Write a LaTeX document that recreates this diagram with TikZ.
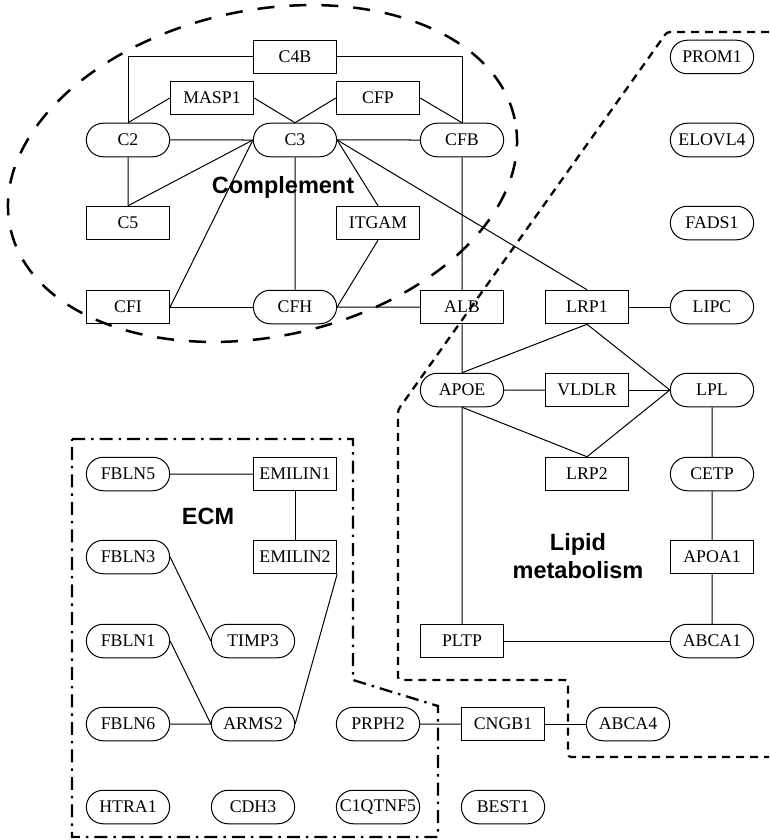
\documentclass[tikz,border=0pt]{standalone}
\usepackage{fontspec}
\setmainfont{Liberation Serif}
\newfontfamily\lblfont{Liberation Sans}
\usetikzlibrary{shapes.misc}
\begin{document}
\begin{tikzpicture}[x=1pt,y=-1pt,
  nfont/.style={font=\fontsize{17.8}{20}\selectfont},
  box/.style={draw, rectangle, minimum width=83.3pt, minimum height=33.5pt, inner sep=0pt, line width=1pt, nfont},
  pill/.style={draw, rounded rectangle, minimum width=83.3pt, minimum height=33.5pt, inner sep=0pt, line width=1pt, nfont},
  edge/.style={line width=1pt},
  grp/.style={font=\lblfont\bfseries\fontsize{23.5}{28}\selectfont, align=center, inner sep=0pt},
  compl/.style={line width=2.5pt, dash pattern=on 17pt off 15pt},
  lipidb/.style={line width=2.3pt, dash pattern=on 8pt off 6pt},
  ecmb/.style={line width=2.3pt, dash pattern=on 13pt off 6pt on 2.5pt off 6pt}
]
\path[use as bounding box] (0,0) rectangle (769,840);

% Complement
\node[box]  (C4B)   at (295,57)  {C4B};
\node[box]  (MASP1) at (212,98)  {MASP1};
\node[box]  (CFP)   at (378,98)  {CFP};
\node[pill] (C2)    at (128,140) {C2};
\node[pill] (C3)    at (295,140) {C3};
\node[pill] (CFB)   at (462,140) {CFB};
\node[box]  (C5)    at (128,223) {C5};
\node[box]  (ITGAM) at (378,223) {ITGAM};
\node[box]  (CFI)   at (128,307) {CFI};
\node[pill] (CFH)   at (295,307) {CFH};
\node[box]  (ALB)   at (462,307) {ALB};
\node[box]  (LRP1)  at (587,307) {LRP1};
\node[pill] (LIPC)  at (712,307) {LIPC};
\node[pill] (PROM1) at (712,57)  {PROM1};
\node[pill] (ELOVL4) at (712,140) {ELOVL4};
\node[pill] (FADS1) at (712,223) {FADS1};

% Lipid
\node[pill] (APOE)  at (462,390) {APOE};
\node[box]  (VLDLR) at (587,390) {VLDLR};
\node[pill] (LPL)   at (712,390) {LPL};
\node[box]  (LRP2)  at (587,474) {LRP2};
\node[pill] (CETP)  at (712,474) {CETP};
\node[box]  (APOA1) at (712,557) {APOA1};
\node[box]  (PLTP)  at (462,641) {PLTP};
\node[pill] (ABCA1) at (712,641) {ABCA1};

% ECM
\node[pill] (FBLN5)   at (128,474) {FBLN5};
\node[box]  (EMILIN1) at (295,474) {EMILIN1};
\node[pill] (FBLN3)   at (128,557) {FBLN3};
\node[box]  (EMILIN2) at (295,557) {EMILIN2};
\node[pill] (FBLN1)   at (128,641) {FBLN1};
\node[pill] (TIMP3)   at (253,641) {TIMP3};
\node[pill] (FBLN6)   at (128,724) {FBLN6};
\node[pill] (ARMS2)   at (253,724) {ARMS2};
\node[pill] (PRPH2)   at (378,724) {PRPH2};
\node[box]  (CNGB1)   at (503,724) {CNGB1};
\node[pill] (ABCA4)   at (628,724) {ABCA4};
\node[pill] (HTRA1)   at (128,807) {HTRA1};
\node[pill] (CDH3)    at (253,807) {CDH3};
\node[pill] (C1QTNF5) at (378,807) {C1QTNF5};
\node[pill] (BEST1)   at (503,807) {BEST1};

% group labels
\node[grp, anchor=base] (lblC) at (283,193) {Complement};
\node[grp, anchor=base] (lblE) at (208,524) {ECM};
\node[grp] (lblL) at (578,556) {Lipid\\metabolism};

% edges
\draw[edge] (C4B.west) -| (C2.north);
\draw[edge] (C4B.east) -| (CFB.north);
\draw[edge] (MASP1.west) -- (C2.north);
\draw[edge] (MASP1.east) -- (C3.north);
\draw[edge] (CFP.west) -- (C3.north);
\draw[edge] (CFP.east) -- (CFB.north);
\draw[edge] (C2) -- (C3);
\draw[edge] (C3) -- (CFB);
\draw[edge] (C2) -- (C5);
\draw[edge] (C5.north) -- (C3.west);
\draw[edge] (CFI.east) -- (C3.west);
\draw[edge] (C3) -- (CFH);
\draw[edge] (C3.east) -- (ITGAM.north);
\draw[edge] (C3.east) -- (LRP1.north);
\draw[edge] (ITGAM.south) -- (CFH.east);
\draw[edge] (CFI) -- (CFH);
\draw[edge] (CFH) -- (ALB);
\draw[edge] (CFB) -- (ALB);
\draw[edge] (ALB) -- (APOE);
\draw[edge] (LRP1) -- (LIPC);
\draw[edge] (LRP1.south) -- (APOE.north);
\draw[edge] (LRP1.south) -- (LPL.west);
\draw[edge] (APOE) -- (VLDLR);
\draw[edge] (VLDLR) -- (LPL);
\draw[edge] (APOE.south) -- (LRP2.north);
\draw[edge] (LRP2.north) -- (LPL.west);
\draw[edge] (LPL) -- (CETP);
\draw[edge] (CETP) -- (APOA1);
\draw[edge] (APOA1) -- (ABCA1);
\draw[edge] (APOE) -- (PLTP);
\draw[edge] (PLTP) -- (ABCA1);
\draw[edge] (FBLN5) -- (EMILIN1);
\draw[edge] (EMILIN1) -- (EMILIN2);
\draw[edge] (FBLN3.east) -- (TIMP3.west);
\draw[edge] (FBLN1.east) -- (ARMS2.west);
\draw[edge] (FBLN6) -- (ARMS2);
\draw[edge] (EMILIN2.south east) -- (ARMS2.east);
\draw[edge] (PRPH2) -- (CNGB1);
\draw[edge] (CNGB1) -- (ABCA4);

% group boundaries
\draw[compl, rotate around={12.2:(262.5,173.5)}] (262.5,173.5) ellipse [x radius=258pt, y radius=163pt];
\draw[lipidb, rounded corners=3pt] (769,32) -- (667,32) -- (398,410) -- (398,680) -- (568,680) -- (568,757) -- (769,757);
\draw[ecmb] (72,439) -- (353,439) -- (353,680) -- (438,706) -- (438,837) -- (72,837) -- cycle;
\end{tikzpicture}
\end{document}
